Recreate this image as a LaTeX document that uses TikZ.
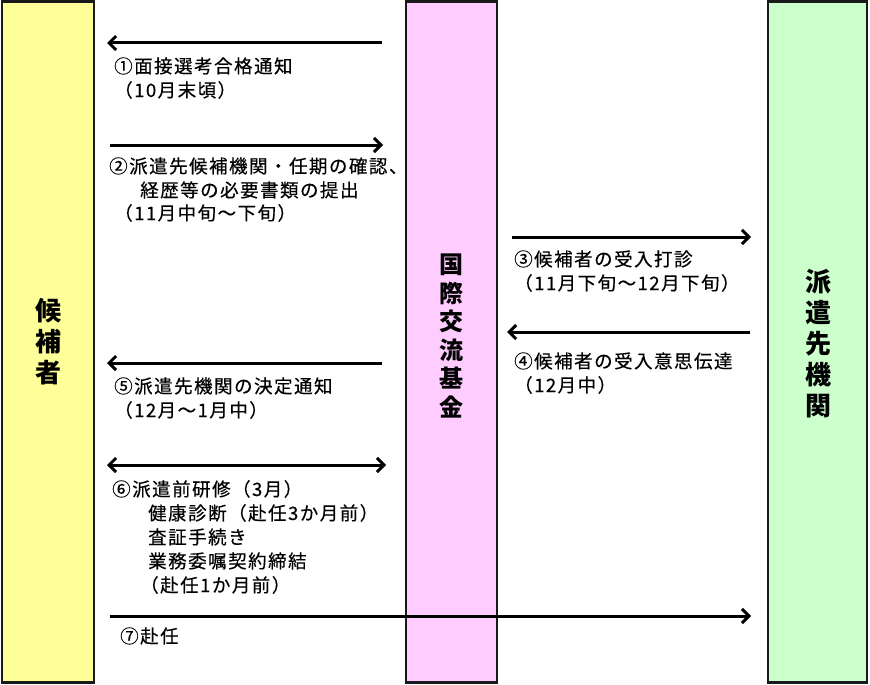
\documentclass[tikz,border=0pt]{standalone}
\usepackage{fontspec}
\usetikzlibrary{arrows.meta}
\newfontfamily\jp[LetterSpace=8,FakeBold=0.4]{Noto Sans CJK JP}
\newfontfamily\jpb{Noto Sans CJK JP}
\definecolor{ylw}{HTML}{FFFF99}
\definecolor{pnk}{HTML}{FFCCFF}
\definecolor{grn}{HTML}{CCFFCC}
\tikzset{
  bar/.style={draw=black!90, line width=2.5pt, inner sep=0pt, minimum width=#1, minimum height=681},
  vlabel/.style={font=\jpb\bfseries\fontsize{26}{31}\selectfont, align=center, inner sep=0pt},
  txt/.style={font=\jp\fontsize{18.5}{20}\selectfont, anchor=base west, inner sep=0pt},
  flow/.style={line width=3pt, -{Straight Barb[length=7pt,width=14pt]}},
  flow2/.style={line width=3pt, {Straight Barb[length=7pt,width=14pt]}-{Straight Barb[length=7pt,width=14pt]}}
}
\begin{document}
\begin{tikzpicture}[x=1pt,y=-1pt]
\useasboundingbox (0,0) rectangle (870,685);
\node[bar=92, fill=ylw] (cand) at (48,342) {};
\node[bar=91, fill=pnk] (jf) at (451.5,342) {};
\node[bar=99, fill=grn] (host) at (817.5,342) {};
\node[vlabel] (candl) at (48,342) {候\\補\\者};
\node[vlabel, font=\jpb\bfseries\fontsize{24}{28.5}\selectfont] (jfl) at (451,336) {国\\際\\交\\流\\基\\金};
\node[vlabel] (hostl) at (818,344) {派\\遣\\先\\機\\関};
% arrow coordinates
\coordinate (a1s) at (382,43); \coordinate (a1e) at (107,43);
\coordinate (a2s) at (110,145); \coordinate (a2e) at (383,145);
\coordinate (a3s) at (512,237); \coordinate (a3e) at (751,237);
\coordinate (a4s) at (750,332); \coordinate (a4e) at (507,332);
\coordinate (a5s) at (382,363); \coordinate (a5e) at (107,363);
\coordinate (a6s) at (107,465); \coordinate (a6e) at (386,465);
\coordinate (a7s) at (110,616); \coordinate (a7e) at (751,616);
\draw[flow] (a1s) -- (a1e);
\draw[flow] (a2s) -- (a2e);
\draw[flow] (a3s) -- (a3e);
\draw[flow] (a4s) -- (a4e);
\draw[flow] (a5s) -- (a5e);
\draw[flow2] (a6s) -- (a6e);
\draw[flow] (a7s) -- (a7e);
% texts
\node[txt] (t1a) at (114,73) {①面接選考合格通知};
\node[txt] (t1b) at (114,97) {（10月末頃）};
\node[txt] (t2a) at (109,173) {②派遣先候補機関・任期の確認、};
\node[txt] (t2b) at (140,197) {経歴等の必要書類の提出};
\node[txt] (t2c) at (114,220) {（11月中旬～下旬）};
\node[txt] (t3a) at (514,266) {③候補者の受入打診};
\node[txt] (t3b) at (514,290) {（11月下旬～12月下旬）};
\node[txt] (t4a) at (514,368) {④候補者の受入意思伝達};
\node[txt] (t4b) at (514,392) {（12月中）};
\node[txt] (t5a) at (114,393) {⑤派遣先機関の決定通知};
\node[txt] (t5b) at (114,417) {（12月～1月中）};
\node[txt] (t6a) at (112,496) {⑥派遣前研修（3月）};
\node[txt] (t6b) at (148,520) {健康診断（赴任3か月前）};
\node[txt] (t6c) at (148,544) {査証手続き};
\node[txt] (t6d) at (148,568) {業務委嘱契約締結};
\node[txt] (t6e) at (140,592) {（赴任1か月前）};
\node[txt] (t7) at (120,643) {⑦赴任};
\end{tikzpicture}
\end{document}
